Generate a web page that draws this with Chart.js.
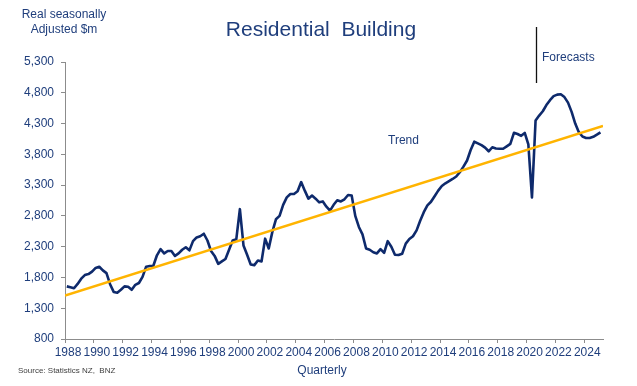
<!DOCTYPE html>
<html>
<head>
<meta charset="utf-8">
<script src="https://cdn.jsdelivr.net/npm/chart.js@4.4.1/dist/chart.umd.min.js"></script>
<style>
html,body{margin:0;padding:0;background:#fff;}
#wrap{position:relative;width:637px;height:386px;}
</style>
</head>
<body>
<div id="wrap"><canvas id="c" width="637" height="386"></canvas></div>
<script>
// Quarterly categories 1988Q1 .. 2025Q1
const startYear = 1988;
const quarters = [];
for (let y = 1988; y <= 2025; y++) for (let q = 1; q <= 4; q++) { if (y === 2025 && q > 1) break; quarters.push(y + 'Q' + q); }

// Real seasonally adjusted residential building ($m)
const buildingValues = [
1655,1640,1625,1695, //1988
1780,1838,1855,1895, //1989
1955,1974,1915,1870, //1990
1690,1565,1553,1600, //1991
1655,1650,1600,1680, //1992
1710,1810,1975,1985, //1993
1990,2160,2260,2190, //1994
2230,2230,2150,2190, //1995
2250,2290,2240,2390, //1996
2450,2470,2510,2400, //1997
2230,2150,2020,2060, //1998
2100,2250,2400,2420, //1999
2909,2320,2170,2010, //2000
2000,2075,2060,2430, //2001
2270,2540,2745,2800, //2002
2980,3100,3155,3155, //2003
3200,3349,3210,3080, //2004
3130,3080,3020,3035, //2005
2950,2885,2980,3055, //2006
3035,3070,3140,3130, //2007
2800,2620,2500,2270, //2008
2250,2210,2190,2260, //2009
2200,2390,2300,2170, //2010
2164,2185,2350,2425, //2011
2470,2565,2720,2860, //2012
2970,3030,3120,3210, //2013
3285,3330,3365,3400, //2014
3440,3510,3600,3700, //2015
3870,4005,3978,3950, //2016
3910,3850,3915,3895, //2017
3890,3890,3930,3970, //2018
4150,4130,4100,4148, //2019
3960,3100,4350,4430, //2020
4500,4600,4680,4745, //2021
4770,4775,4730,4640, //2022
4490,4300,4160,4090, //2023
4066,4066,4085,4120, //2024
4158                 //2025
];

// Trend line end points (year, value)
const trendYears = [1988, 2025.3];
const trendValues = [1505, 4262];

// Axis ticks
const xTickYears = [1988,1990,1992,1994,1996,1998,2000,2002,2004,2006,2008,2010,2012,2014,2016,2018,2020,2022,2024];
const yTicks = [800,1300,1800,2300,2800,3300,3800,4300,4800,5300];

const forecastYear = 2020.65;

function quarterToX(label){
  const y = parseInt(label.slice(0,4),10);
  const q = parseInt(label.slice(5),10);
  return y + (q-1)/4 + 0.125;
}

const blue = '#1F3E7C';
const navy = '#0E2A6C';
const gold = '#FFB400';
const FONT = "'Liberation Sans', Arial, sans-serif";

const textPlugin = {
  id: 'texts',
  afterDraw(chart){
    const ctx = chart.ctx;
    const xs = chart.scales.x, ys = chart.scales.y;
    ctx.save();
    ctx.fillStyle = blue;
    ctx.textBaseline = 'alphabetic';
    // Title
    ctx.font = "21px " + FONT;
    ctx.textAlign = 'center';
    ctx.fillText('Residential  Building', 321, 36);
    // Y axis title
    ctx.font = "12px " + FONT;
    ctx.fillText('Real seasonally', 64, 18);
    ctx.fillText('Adjusted $m', 64, 33);
    // X axis title
    ctx.fillText('Quarterly', 322, 374);
    // Trend label
    ctx.textAlign = 'left';
    ctx.fillText('Trend', 388, 144);
    // Forecasts label
    ctx.fillText('Forecasts', 542, 61);
    // Source
    ctx.fillStyle = '#404040';
    ctx.font = "8px " + FONT;
    ctx.fillText('Source: Statistics NZ,  BNZ', 18, 373);
    // Forecast divider line
    const fx = Math.round(xs.getPixelForValue(forecastYear)) + 0.5;
    ctx.strokeStyle = '#111';
    ctx.lineWidth = 1.3;
    ctx.beginPath();
    ctx.moveTo(fx, 27);
    ctx.lineTo(fx, 83);
    ctx.stroke();
    ctx.restore();
  }
};

new Chart(document.getElementById('c'), {
  type: 'line',
  data: {
    datasets: [
      {
        label: 'Trend',
        data: trendYears.map((y,i)=>({x:y, y:trendValues[i]})),
        borderColor: gold,
        borderWidth: 2.6,
        pointRadius: 0,
        tension: 0,
        order: 0
      },
      {
        label: 'Residential Building',
        data: quarters.map((q,i)=>({x:quarterToX(q), y:buildingValues[i]})),
        borderColor: navy,
        borderWidth: 2.6,
        pointRadius: 0,
        tension: 0,
        borderJoinStyle: 'round',
        order: 1
      }
    ]
  },
  options: {
    responsive: false,
    animation: false,
    layout: { padding: { top: 62, right: 34, bottom: 23, left: 0 } },
    plugins: { legend: { display: false }, tooltip: { enabled: false }, title: { display: false } },
    scales: {
      x: {
        type: 'linear',
        min: 1988,
        max: 2025.3,
        afterFit(s){ s.height = 24; },
        afterBuildTicks(s){ s.ticks = xTickYears.map(v=>({value:v})); },
        ticks: {
          autoSkip: false, maxRotation: 0, minRotation: 0,
          color: blue, font: { family: FONT, size: 12 }, padding: 2, labelOffset: 3,
          callback: v => String(v)
        },
        grid: { display: true, drawOnChartArea: false, drawTicks: true, tickLength: 4, color: '#8C8C8C' },
        border: { display: true, color: '#8C8C8C', width: 1 }
      },
      y: {
        min: 800,
        max: 5300,
        afterFit(s){ s.width = 65; },
        afterBuildTicks(s){ s.ticks = yTicks.map(v=>({value:v})); },
        ticks: {
          color: blue, font: { family: FONT, size: 12 }, padding: 7,
          callback: v => v.toLocaleString('en-US')
        },
        grid: { display: true, drawOnChartArea: false, drawTicks: true, tickLength: 4, color: '#8C8C8C' },
        border: { display: true, color: '#8C8C8C', width: 1 }
      }
    }
  },
  plugins: [textPlugin]
});
</script>
</body>
</html>
